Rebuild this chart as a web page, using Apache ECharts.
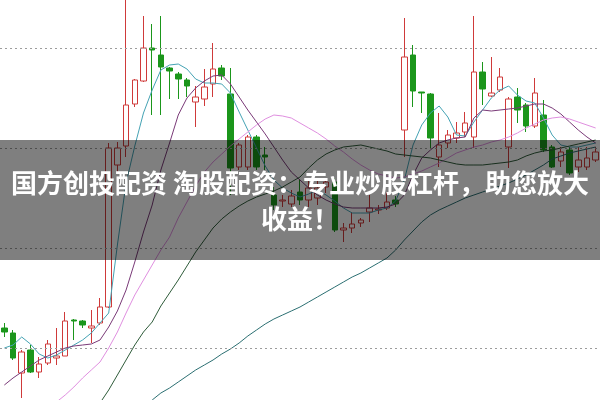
<!DOCTYPE html>
<html>
<head>
<meta charset="utf-8">
<script src="https://cdn.jsdelivr.net/npm/echarts@6/dist/echarts.min.js"></script>
<style>html,body{margin:0;padding:0;background:#fff}#c{width:600px;height:400px}</style>
</head>
<body>
<div id="c"></div>
<script>
// ---- data (price units, arbitrary scale) ----
const openV  = [72,67,27,50,28,37,42,44,80,79,72,77,93,235,254,296,319,352,345,332,326,320,298,301,316,332,306,233,233,263,245,205,199,196,208,200,202,213,218,170,172,177,188,190,192,200,270,345,308,306,243,257,262,268,263,328,304,310,253,303,295,274,285,253,239,250,233,233,240];
const closeV = [68,42,48,28,36,56,44,79,79,75,74,93,252,252,295,320,352,350,333,329,321,314,303,313,331,324,232,255,263,233,243,195,200,204,200,212,212,218,170,172,176,180,192,191,198,196,343,309,307,262,255,265,267,277,328,311,307,323,301,290,274,307,250,233,248,227,240,242,248];
const lowV   = [63,40,2,27,22,35,35,44,60,72,57,75,92,228,243,293,318,285,285,301,301,303,273,294,303,320,205,230,230,230,230,190,193,193,195,193,195,207,168,158,167,173,178,186,190,193,243,293,287,252,233,252,257,263,252,295,303,308,232,277,268,272,248,232,233,225,228,230,238];
const highV  = [77,70,50,55,43,60,72,88,81,80,90,102,257,258,400,321,384,376,384,333,328,322,314,331,357,335,332,257,265,265,253,213,205,210,220,220,222,220,222,177,188,182,205,195,208,204,382,355,308,307,287,270,278,288,384,338,343,332,303,312,297,322,300,255,253,253,253,253,253];

const ma5  = [52,55,63,56,46,42,45,50,55,60,67,77,87,155,217,254,287,310,330,335,336,331,321,317,317,316,307,288,270,252,234,220,212,207,203,206,210,205,199,192,187,187,187,190,192,199,220,255,275,287,294,283,265,264,278,290,302,310,314,305,299,297,282,265,255,253,253,255,257];
const ma10 = [15,22,28,34,40,44,48,52,54,55,56,60,73,89,110,138,168,195,230,257,285,302,312,319,324,325,316,303,290,278,266,253,240,228,220,212,205,200,196,193,192,192,192,192,193,196,205,225,242,250,257,260,262,263,282,290,289,290,291,292,294,296,296,292,286,278,270,263,257];
const ma20 = [null,null,null,null,null,-11,-2,5,13,22,30,38,52,68,87,105,120,135,150,163,182,198,214,228,238,246,254,261,268,275,281,285,284,282,277,272,267,261,254,248,241,235,230,226,224,222,223,226,229,233,237,242,247,250,253,255,258,260,263,267,272,276,280,282,283,281,278,275,272];
const ma30 = [null,null,null,null,null,null,null,null,null,null,null,-3,10,25,40,55,68,78,94,107,120,134,148,160,172,181,188,194,199,203,206,209,213,218,223,232,240,246,250,253,254,255,253,251,249,246,245,244,243,242,240,238,236,235,235,235,236,237,238,240,244,247,249,250,252,254,256,258,260];
const ma60 = [null,null,null,null,null,null,null,null,null,null,null,null,null,null,null,null,null,0,7,12,18,24,30,35,40,46,51,57,64,70,76,81,85,89,93,98,103,108,113,118,123,127,132,137,142,150,160,169,178,185,190,194,198,202,205,208,211,214,217,221,225,230,235,241,244,247,249,251,253];

const gridValues = [52,152,252,352];
const categories = openV.map((_, i) => 'D' + (i + 1));
const titleLine1 = '国方创投配资 淘股配资：专业炒股杠杆，助您放大';
const titleLine2 = '收益！';

const kData = openV.map((o, i) => [o, closeV[i], lowV[i], highV[i]]);

const chart = echarts.init(document.getElementById('c'), null, {renderer: 'canvas'});
function maSeries(name, data, color) {
  return {name, type: 'line', data, symbol: 'none', smooth: false, z: 4,
    lineStyle: {color, width: 1}, silent: true, connectNulls: false};
}
chart.setOption({
  animation: false,
  backgroundColor: '#ffffff',
  grid: {left: -2, right: -2, top: 0, bottom: 0},
  xAxis: {type: 'category', data: categories, show: false, boundaryGap: true},
  yAxis: {type: 'value', min: 0, max: 400, show: false, splitLine: {show: false}},
  series: [
    {type: 'line', data: [], silent: true, z: 1,
     markLine: {symbol: 'none', silent: true, label: {show: false},
       lineStyle: {color: '#9c9c9c', type: [2, 3], width: 1},
       data: gridValues.map(v => ({yAxis: v}))}},
    {type: 'candlestick', data: kData, barWidth: 6, z: 3, silent: true,
     itemStyle: {color: '#ffffff', color0: '#1b961b', borderColor: '#cf3a3a', borderColor0: '#1b961b', borderWidth: 1}},
    maSeries('MA5', ma5, '#45a3b4'),
    maSeries('MA10', ma10, '#7a3a78'),
    maSeries('MA20', ma20, '#e08fe0'),
    maSeries('MA30', ma30, '#2f5c3a'),
    maSeries('MA60', ma60, '#2b6f72')
  ],
  graphic: [
    {type: 'rect', z: 100, silent: true, shape: {x: 0, y: 140, width: 600, height: 120},
     style: {fill: 'rgba(0,0,0,0.5)'}},
    {type: 'text', z: 101, silent: true,
     style: {text: titleLine1, x: 300, y: 183, fill: '#ffffff', align: 'center', verticalAlign: 'middle',
       font: 'bold 26px "Noto Sans CJK SC"'}},
    {type: 'text', z: 101, silent: true,
     style: {text: titleLine2, x: 300, y: 219, fill: '#ffffff', align: 'center', verticalAlign: 'middle',
       font: 'bold 26px "Noto Sans CJK SC"'}}
  ]
});
</script>
</body>
</html>
